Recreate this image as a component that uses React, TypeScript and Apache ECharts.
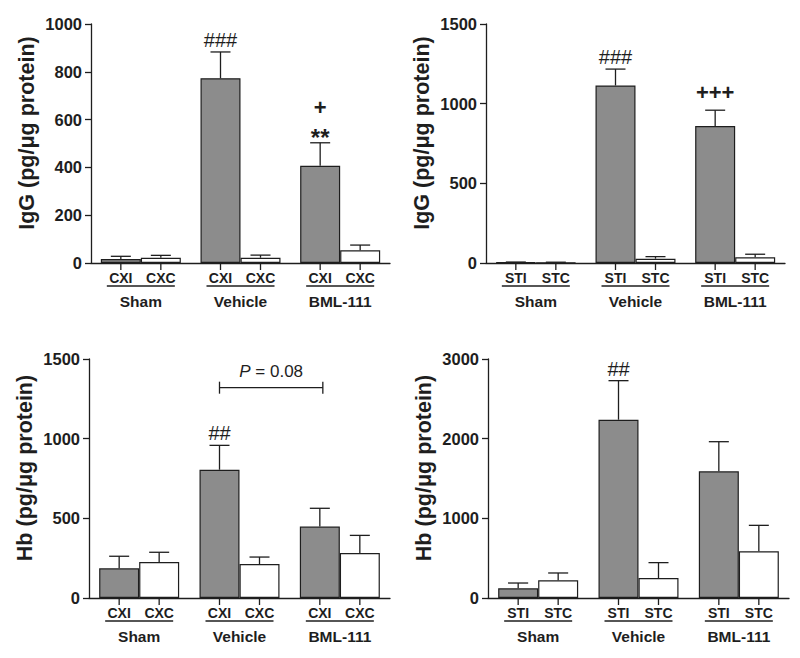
import React, { useEffect, useRef } from 'react';
import * as echarts from 'echarts';

// ---------- data ----------
const groups = ['Sham', 'Vehicle', 'BML-111'];
const cxSubLabels = ['CXI', 'CXC'];
const stSubLabels = ['STI', 'STC'];

// Panel A: IgG, cortex
const iggCxIpsi = [17, 773, 407];
const iggCxIpsiErr = [11, 110, 96];
const iggCxContra = [22, 22, 53];
const iggCxContraErr = [10, 11, 22];
const iggCxMarks = ['', '###', '+\n**'];

// Panel B: IgG, striatum
const iggStIpsi = [4, 1114, 860];
const iggStIpsiErr = [2, 103, 99];
const iggStContra = [3, 27, 36];
const iggStContraErr = [2, 13, 19];
const iggStMarks = ['', '###', '+++'];

// Panel C: Hb, cortex
const hbCxIpsi = [186, 805, 448];
const hbCxIpsiErr = [76, 153, 115];
const hbCxContra = [226, 213, 282];
const hbCxContraErr = [61, 44, 111];
const hbCxMarks = ['', '##', ''];

// Panel D: Hb, striatum
const hbStIpsi = [121, 2238, 1590];
const hbStIpsiErr = [67, 490, 372];
const hbStContra = [222, 251, 586];
const hbStContraErr = [92, 193, 326];
const hbStMarks = ['', '##', ''];

// Comparison bracket in panel C (Vehicle CXI vs BML-111 CXI)
const bracketFrom = 1;
const bracketTo = 2;
const bracketLevel = 1320;
const bracketText = 'P = 0.08';

const iggName = 'IgG (pg/\u03bcg protein)';
const hbName = 'Hb (pg/\u03bcg protein)';

// ---------- styling ----------
const FONT = '"Liberation Sans", Arial, Helvetica, sans-serif';
const BAR_W = 40;
const CAP = 10;
const INK = '#1e1e1e';
const GRAY = '#8c8c8c';

type Panel = {
  yName: string;
  max: number;
  interval: number;
  sub: string[];
  ipsi: number[];
  ipsiErr: number[];
  contra: number[];
  contraErr: number[];
  marks: string[];
  grid: { left: number; top: number; width: number; height: number };
};

const panels: Panel[] = [
  { yName: iggName, max: 1000, interval: 200, sub: cxSubLabels, ipsi: iggCxIpsi, ipsiErr: iggCxIpsiErr, contra: iggCxContra, contraErr: iggCxContraErr, marks: iggCxMarks, grid: { left: 91, top: 24, width: 299, height: 239 } },
  { yName: iggName, max: 1500, interval: 500, sub: stSubLabels, ipsi: iggStIpsi, ipsiErr: iggStIpsiErr, contra: iggStContra, contraErr: iggStContraErr, marks: iggStMarks, grid: { left: 486, top: 24, width: 299, height: 239 } },
  { yName: hbName, max: 1500, interval: 500, sub: cxSubLabels, ipsi: hbCxIpsi, ipsiErr: hbCxIpsiErr, contra: hbCxContra, contraErr: hbCxContraErr, marks: hbCxMarks, grid: { left: 89, top: 359, width: 301, height: 239 } },
  { yName: hbName, max: 3000, interval: 1000, sub: stSubLabels, ipsi: hbStIpsi, ipsiErr: hbStIpsiErr, contra: hbStContra, contraErr: hbStContraErr, marks: hbStMarks, grid: { left: 488, top: 359, width: 301, height: 239 } },
];

function markStyle(line: string) {
  if (line.indexOf('#') >= 0) return { fontWeight: 'normal', fontSize: 20, shift: 0, raise: 12 };
  if (line.indexOf('*') >= 0) return { fontWeight: 'bold', fontSize: 24, shift: 6, raise: 11 };
  return { fontWeight: 'bold', fontSize: 22, shift: 0, raise: 18 };
}

function buildOption() {
  const grid: any[] = [];
  const xAxis: any[] = [];
  const yAxis: any[] = [];
  const series: any[] = [];
  const lineStyle = { stroke: INK, lineWidth: 1.3 };

  panels.forEach((p, i) => {
    grid.push({ ...p.grid });
    xAxis.push({
      type: 'category',
      gridIndex: i,
      data: groups,
      axisLine: { show: true, lineStyle: { color: INK, width: 1.3 } },
      axisTick: { show: false },
      axisLabel: { margin: 30, fontFamily: FONT, fontWeight: 'bold', fontSize: 15.5, color: INK },
    });
    yAxis.push({
      type: 'value',
      gridIndex: i,
      min: 0,
      max: p.max,
      interval: p.interval,
      splitLine: { show: false },
      axisLine: { show: true, lineStyle: { color: INK, width: 1.3 } },
      axisTick: { show: true, length: 6, lineStyle: { color: INK, width: 1.3 } },
      axisLabel: {
        margin: 9,
        fontFamily: FONT,
        fontWeight: 'bold',
        fontSize: 16.5,
        color: INK,
        formatter: (v: number) => String(v),
      },
      name: p.yName,
      nameLocation: 'middle',
      nameGap: 53,
      nameTextStyle: { fontFamily: FONT, fontWeight: 'bold', fontSize: 21.5, color: INK, padding: [0, 0, 0, 21] },
    });
    series.push({
      type: 'bar',
      xAxisIndex: i,
      yAxisIndex: i,
      data: p.ipsi,
      barWidth: BAR_W,
      barGap: '0%',
      itemStyle: { color: GRAY, borderColor: INK, borderWidth: 1.2 },
    });
    series.push({
      type: 'bar',
      xAxisIndex: i,
      yAxisIndex: i,
      data: p.contra,
      barWidth: BAR_W,
      barGap: '0%',
      itemStyle: { color: '#ffffff', borderColor: INK, borderWidth: 1.2 },
    });
    const errData: number[][] = [];
    groups.forEach((_, c) => {
      errData.push([c, p.ipsi[c], p.ipsiErr[c], 0]);
      errData.push([c, p.contra[c], p.contraErr[c], 1]);
    });
    series.push({
      type: 'custom',
      xAxisIndex: i,
      yAxisIndex: i,
      clip: false,
      z: 5,
      silent: true,
      data: errData,
      renderItem: (params: any, api: any) => {
        const c = api.value(0);
        const v = api.value(1);
        const e = api.value(2);
        const side = api.value(3);
        const base = api.coord([c, 0]);
        const x = base[0] + (side === 0 ? -BAR_W / 2 : BAR_W / 2);
        const yTop = api.coord([c, v])[1];
        const yErr = api.coord([c, v + e])[1];
        const children: any[] = [
          { type: 'line', shape: { x1: x, y1: yTop, x2: x, y2: yErr }, style: lineStyle },
          { type: 'line', shape: { x1: x - CAP, y1: yErr, x2: x + CAP, y2: yErr }, style: lineStyle },
          { type: 'line', shape: { x1: x, y1: base[1], x2: x, y2: base[1] + 7 }, style: lineStyle },
          {
            type: 'text',
            style: {
              text: p.sub[side],
              x,
              y: base[1] + 8,
              align: 'center',
              verticalAlign: 'top',
              fontFamily: FONT,
              fontWeight: 'bold',
              fontSize: 14,
              fill: INK,
            },
          },
        ];
        if (side === 0) {
          children.push({
            type: 'line',
            shape: { x1: base[0] - 34, y1: base[1] + 23, x2: base[0] + 34, y2: base[1] + 23 },
            style: lineStyle,
          });
          const m = p.marks[c];
          if (m) {
            const lines = m.split('\n').reverse();
            let center = yErr;
            lines.forEach((ln, k) => {
              const ms = markStyle(ln);
              center = k === 0 ? yErr - ms.raise : center - 24;
              children.push({
                type: 'text',
                style: {
                  text: ln,
                  x,
                  y: center + ms.shift,
                  align: 'center',
                  verticalAlign: 'middle',
                  fontFamily: FONT,
                  fontWeight: ms.fontWeight,
                  fontSize: ms.fontSize,
                  fill: INK,
                },
              });
            });
          }
        }
        return { type: 'group', children };
      },
    });
  });

  // comparison bracket (panel C)
  series.push({
    type: 'custom',
    xAxisIndex: 2,
    yAxisIndex: 2,
    clip: false,
    z: 5,
    silent: true,
    data: [[bracketFrom, bracketLevel, bracketTo]],
    renderItem: (params: any, api: any) => {
      const a = api.coord([api.value(0), api.value(1)]);
      const b = api.coord([api.value(2), api.value(1)]);
      const x1 = a[0] - BAR_W / 2;
      const x2 = b[0] - BAR_W / 2 + 3;
      const y = a[1];
      const st = { stroke: INK, lineWidth: 1.3 };
      const parts = bracketText.split(' ');
      return {
        type: 'group',
        children: [
          { type: 'line', shape: { x1, y1: y, x2, y2: y }, style: st },
          { type: 'line', shape: { x1, y1: y - 6, x2: x1, y2: y + 6 }, style: st },
          { type: 'line', shape: { x1: x2, y1: y - 6, x2, y2: y + 6 }, style: st },
          {
            type: 'text',
            style: {
              text: '{i|' + parts[0] + '}{n| ' + parts.slice(1).join(' ') + '}',
              x: (x1 + x2) / 2,
              y: y - 8,
              align: 'center',
              verticalAlign: 'bottom',
              rich: {
                i: { fontFamily: FONT, fontStyle: 'italic', fontSize: 17, fill: INK },
                n: { fontFamily: FONT, fontSize: 17, fill: INK },
              },
            },
          },
        ],
      };
    },
  });

  return {
    animation: false,
    backgroundColor: '#ffffff',
    grid,
    xAxis,
    yAxis,
    series,
  };
}

export default function App() {
  const ref = useRef<HTMLDivElement>(null);
  useEffect(() => {
    if (!ref.current) return;
    const chart = echarts.init(ref.current, undefined, { renderer: 'svg' });
    chart.setOption(buildOption() as any);
    return () => chart.dispose();
  }, []);
  return (
    <div
      ref={ref}
      style={{ position: 'absolute', left: 0, top: 0, width: 800, height: 658 }}
    />
  );
}
